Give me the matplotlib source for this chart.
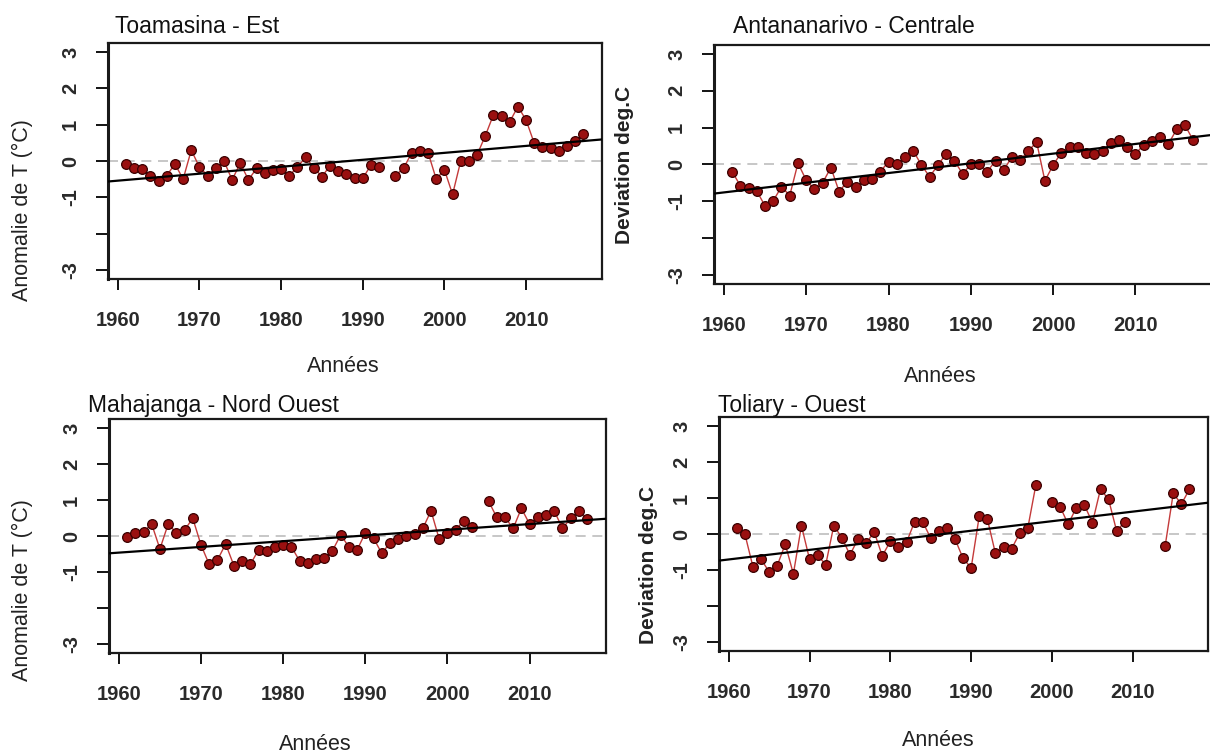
import numpy as np
import matplotlib
matplotlib.use('Agg')
import matplotlib.pyplot as plt

plt.rcParams['font.family'] = ['Liberation Sans', 'DejaVu Sans']

# Anomalies annuelles de température (°C), 1961-2017 ; nan = année manquante
years = np.arange(1961, 2018)

toamasina = [
    -0.08, -0.18, -0.23, -0.40, -0.55, -0.40, -0.08, -0.50, 0.30, -0.17,
    -0.40, -0.20, 0.00, -0.52, -0.06, -0.52, -0.20, -0.33, -0.24, -0.23,
    -0.41, -0.16, 0.10, -0.18, -0.43, -0.13, -0.28, -0.36, -0.48, -0.48,
    -0.11, -0.17, np.nan, -0.40, -0.20, 0.23, 0.28, 0.23, -0.50, -0.24,
    -0.92, 0.00, 0.00, 0.17, 0.69, 1.27, 1.25, 1.08, 1.50, 1.13,
    0.49, 0.38, 0.35, 0.28, 0.41, 0.55, 0.74,
]
antananarivo = [
    -0.20, -0.58, -0.65, -0.73, -1.13, -0.99, -0.61, -0.85, 0.03, -0.43,
    -0.68, -0.50, -0.09, -0.74, -0.47, -0.63, -0.43, -0.41, -0.20, 0.07,
    0.00, 0.19, 0.37, -0.02, -0.34, -0.02, 0.28, 0.10, -0.26, 0.00,
    0.00, -0.20, 0.10, -0.16, 0.21, 0.11, 0.37, 0.60, -0.45, -0.02,
    0.32, 0.48, 0.46, 0.30, 0.28, 0.35, 0.59, 0.66, 0.48, 0.28,
    0.53, 0.64, 0.75, 0.55, 0.95, 1.07, 0.66,
]
mahajanga = [
    -0.02, 0.07, 0.12, 0.33, -0.36, 0.33, 0.09, 0.17, 0.49, -0.25,
    -0.79, -0.67, -0.22, -0.82, -0.69, -0.79, -0.39, -0.41, -0.30, -0.25,
    -0.30, -0.69, -0.74, -0.64, -0.62, -0.41, 0.03, -0.30, -0.39, 0.09,
    -0.06, -0.48, -0.20, -0.09, 0.00, 0.06, 0.21, 0.70, -0.09, 0.09,
    0.17, 0.43, 0.24, np.nan, 0.97, 0.52, 0.52, 0.21, 0.77, 0.33,
    0.54, 0.58, 0.70, 0.21, 0.49, 0.70, 0.47,
]
toliary = [
    0.18, 0.00, -0.91, -0.70, -1.05, -0.88, -0.28, -1.11, 0.23, -0.70,
    -0.58, -0.86, 0.23, -0.10, -0.58, -0.14, -0.26, 0.06, -0.61, -0.20,
    -0.35, -0.23, 0.34, 0.34, -0.12, 0.09, 0.16, -0.14, -0.68, -0.94,
    0.50, 0.42, -0.54, -0.35, -0.41, 0.02, 0.16, 1.36, np.nan, 0.90,
    0.76, 0.27, 0.73, 0.81, 0.31, 1.25, 0.96, 0.08, 0.34, np.nan,
    np.nan, np.nan, np.nan, -0.33, 1.13, 0.83, 1.24,
]

xticks = [1960, 1970, 1980, 1990, 2000, 2010]
yticks = [-3, -2, -1, 0, 1, 2, 3]
ytick_labels = ['-3', '', '-1', '0', '1', '2', '3']

W, H = 1210, 754
fig = plt.figure(figsize=(W / 100, H / 100), dpi=100)


def px_rect(l, t, r, b):
    return [l / W, 1 - b / H, (r - l) / W, (b - t) / H]


def px_text(x, y, s, **kw):
    fig.text(x / W, 1 - y / H, s, **kw)


panels = [
    dict(title='Toamasina - Est', vals=toamasina, rect=(108, 43.4, 602, 278.6),
         title_xy=(115, 33), ylab='Anomalie de T (°C)', ylab_xy=(22, 210),
         ylab_bold=False, xlab_xy=(343, 367)),
    dict(title='Antananarivo - Centrale', vals=antananarivo, rect=(714, 45.1, 1212, 283.5),
         title_xy=(733, 33), ylab='Deviation deg.C', ylab_xy=(624, 165),
         ylab_bold=True, xlab_xy=(940, 377)),
    dict(title='Mahajanga - Nord Ouest', vals=mahajanga, rect=(109, 419.4, 606, 652.6),
         title_xy=(88, 412), ylab='Anomalie de T (°C)', ylab_xy=(22, 590),
         ylab_bold=False, xlab_xy=(315, 744)),
    dict(title='Toliary - Ouest', vals=toliary, rect=(719, 417.4, 1208, 650.6),
         title_xy=(718, 412), ylab='Deviation deg.C', ylab_xy=(648, 565),
         ylab_bold=True, xlab_xy=(938, 740)),
]

XLIM = (1958.8, 2019.3)
YLIM = (-3.24, 3.24)

for p in panels:
    ax = fig.add_axes(px_rect(*p['rect']))
    v = np.array(p['vals'], dtype=float)

    ax.axhline(0, color='#bdbdbd', lw=1.2, dashes=(6, 4), zorder=1)
    ax.plot(years, v, '-', color='#c43a3a', lw=1.0, zorder=2)
    ax.plot(years, v, 'o', ms=7, mfc='#9a1010', mec='#3a0000', mew=0.9, zorder=3)

    # droite de tendance (moindres carrés)
    ok = ~np.isnan(v)
    coef = np.polyfit(years[ok], v[ok], 1)
    xs = np.array(XLIM)
    ax.plot(xs, np.polyval(coef, xs), color='black', lw=1.6, zorder=4)

    ax.set_xlim(*XLIM)
    ax.set_ylim(*YLIM)
    ax.set_xticks(xticks)
    ax.set_xticklabels([str(x) for x in xticks], fontsize=14.5, fontweight='bold', color='#2a2a2a')
    ax.set_yticks(yticks)
    ax.set_yticklabels(ytick_labels, fontsize=14.5, fontweight='bold', color='#2a2a2a',
                       rotation=90, va='center')
    ax.tick_params(axis='y', direction='out', length=9, width=1.3, pad=11)
    ax.tick_params(axis='x', direction='out', length=7.7, width=1.3, pad=15.5)
    for s in ax.spines.values():
        s.set_linewidth(1.6)
        s.set_color('#1a1a1a')
    ax.spines['left'].set_linewidth(2.2)

    px_text(*p['title_xy'], p['title'], fontsize=16.5, ha='left', va='baseline', color='#111111')
    px_text(*p['ylab_xy'], p['ylab'], fontsize=15.5 if not p['ylab_bold'] else 15,
            fontweight='bold' if p['ylab_bold'] else 'normal',
            rotation=90, ha='center', va='center', color='#222222')
    px_text(*p['xlab_xy'], 'Années', fontsize=15.5, ha='center', va='center', color='#222222')

fig.savefig('out.png', dpi=100, facecolor='white')
